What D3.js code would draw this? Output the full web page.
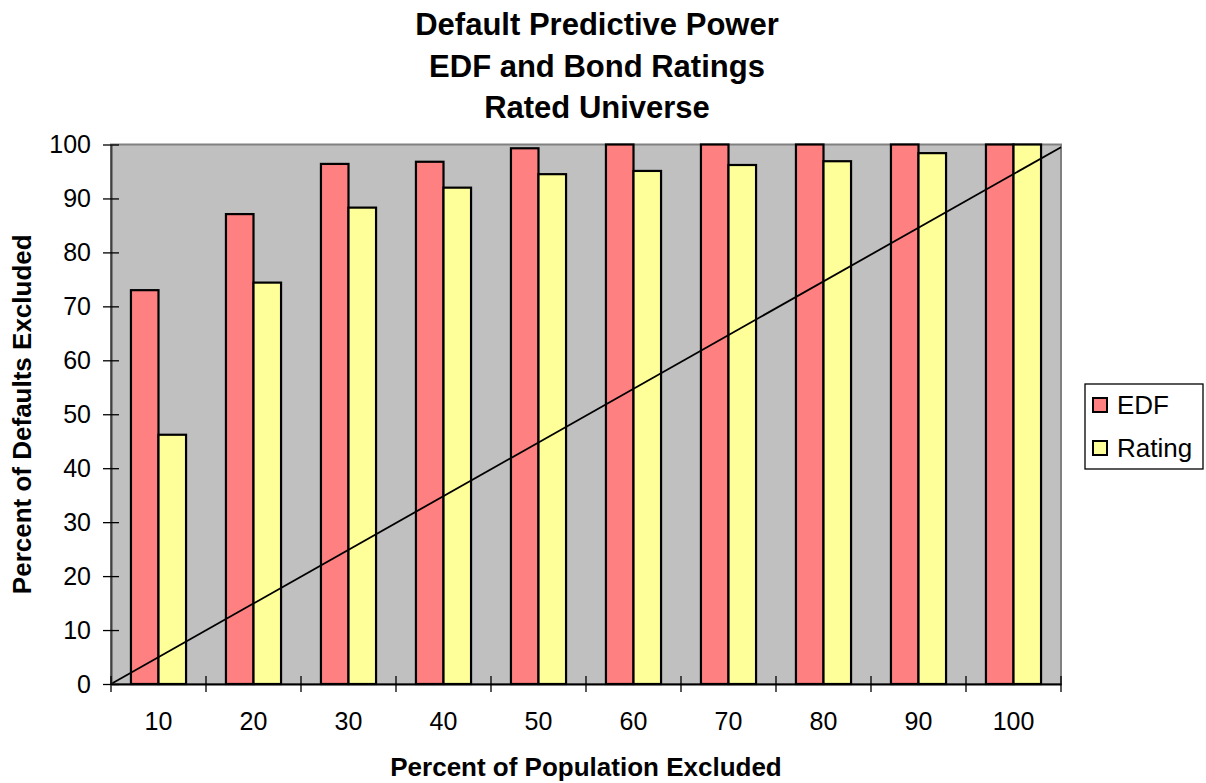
<!DOCTYPE html>
<html>
<head>
<meta charset="utf-8">
<script src="https://cdn.jsdelivr.net/npm/d3@7"></script>
<style>
  html, body { margin: 0; padding: 0; background: #fff; }
  svg { display: block; font-family: Arial, "Liberation Sans", sans-serif; }
</style>
</head>
<body>
<svg id="chart" width="1206" height="783"></svg>
<script>
const categories = ["10", "20", "30", "40", "50", "60", "70", "80", "90", "100"];
const seriesNames = ["EDF", "Rating"];
const edfValues = [73.0, 87.1, 96.4, 96.8, 99.3, 100, 100, 100, 100, 100];
const ratingValues = [46.2, 74.4, 88.3, 92.0, 94.5, 95.1, 96.2, 96.9, 98.4, 100];
const yTicks = [0, 10, 20, 30, 40, 50, 60, 70, 80, 90, 100];
const diagX = [0, 100];
const diagY = [0, 99.5];
const titleLines = ["Default Predictive Power", "EDF and Bond Ratings", "Rated Universe"];
const xTitle = "Percent of Population Excluded";
const yTitle = "Percent of Defaults Excluded";
const colors = { EDF: "#FF8080", Rating: "#FFFF99" };

const svg = d3.select("#chart");
const plot = { left: 111, right: 1061, top: 144.5, bottom: 684 };

const x0 = d3.scaleBand().domain(categories).range([plot.left, plot.right]).padding(0);
const bw = x0.bandwidth();
const gap = bw * 0.42;
const x1 = d3.scaleBand().domain(seriesNames).range([gap / 2, bw - gap / 2]).padding(0);
const y = d3.scaleLinear().domain([0, 100]).range([plot.bottom, plot.top]);
const xLin = d3.scaleLinear().domain([0, 100]).range([plot.left, plot.right]);

// plot background
svg.append("rect")
  .attr("x", plot.left).attr("y", plot.top)
  .attr("width", plot.right - plot.left).attr("height", plot.bottom - plot.top)
  .attr("fill", "#C0C0C0").attr("stroke", "#808080").attr("stroke-width", 2);

// bars
const rows = categories.map((c, i) => ({ cat: c, vals: [
  { s: "EDF", v: edfValues[i] }, { s: "Rating", v: ratingValues[i] } ] }));

const groups = svg.append("g").selectAll("g").data(rows).join("g")
  .attr("transform", d => `translate(${x0(d.cat)},0)`);
groups.selectAll("rect").data(d => d.vals).join("rect")
  .attr("x", d => x1(d.s))
  .attr("y", d => y(d.v))
  .attr("width", x1.bandwidth())
  .attr("height", d => y(0) - y(d.v))
  .attr("fill", d => colors[d.s])
  .attr("stroke", "#000").attr("stroke-width", 2.2);

// diagonal line
const line = d3.line().x(d => xLin(d[0])).y(d => y(d[1]));
svg.append("path")
  .datum(diagX.map((v, i) => [v, diagY[i]]))
  .attr("d", line)
  .attr("fill", "none").attr("stroke", "#000").attr("stroke-width", 1.8);

// y axis
const yAxis = d3.axisLeft(y).tickValues(yTicks).tickSizeInner(8).tickSizeOuter(0).tickPadding(12);
const gy = svg.append("g").attr("transform", `translate(${plot.left},0)`).call(yAxis);
gy.select(".domain").attr("stroke", "#404040").attr("stroke-width", 2);
gy.selectAll(".tick line").attr("x2", 8).attr("x1", -8).attr("stroke", "#000").attr("stroke-width", 1.3);
gy.selectAll(".tick text").attr("x", -20).style("font-size", "25px").attr("fill", "#000")
  .style("font-family", "Arial, 'Liberation Sans', sans-serif");

// x axis
const xAxis = d3.axisBottom(x0).tickSizeOuter(0).tickSize(0).tickPadding(28);
const gx = svg.append("g").attr("transform", `translate(0,${plot.bottom})`).call(xAxis);
gx.select(".domain").attr("stroke", "#000").attr("stroke-width", 2);
gx.selectAll(".tick line").remove();
gx.selectAll(".tick text").style("font-size", "25px").attr("fill", "#000")
  .style("font-family", "Arial, 'Liberation Sans', sans-serif");
// boundary tick marks between categories
const boundaries = categories.map(c => x0(c)).concat([plot.right]);
svg.append("g").selectAll("line").data(boundaries).join("line")
  .attr("x1", d => d).attr("x2", d => d)
  .attr("y1", plot.bottom - 8).attr("y2", plot.bottom + 8)
  .attr("stroke", "#000").attr("stroke-width", 1.3);

// titles
svg.append("g").selectAll("text").data(titleLines).join("text")
  .attr("x", 597).attr("y", (d, i) => 35 + i * 41.5)
  .attr("text-anchor", "middle")
  .style("font-size", "31px").style("font-weight", "bold")
  .text(d => d);

svg.append("text").attr("x", 586).attr("y", 776)
  .attr("text-anchor", "middle")
  .style("font-size", "26px").style("font-weight", "bold")
  .text(xTitle);

svg.append("text")
  .attr("transform", `translate(31,${(plot.top + plot.bottom) / 2}) rotate(-90)`)
  .attr("text-anchor", "middle")
  .style("font-size", "26px").style("font-weight", "bold")
  .text(yTitle);

// legend
const lg = svg.append("g");
lg.append("rect").attr("x", 1085).attr("y", 384).attr("width", 118).attr("height", 85)
  .attr("fill", "#fff").attr("stroke", "#000").attr("stroke-width", 1.3);
const li = lg.selectAll("g.item").data(seriesNames).join("g").attr("class", "item")
  .attr("transform", (d, i) => `translate(1093,${398 + i * 43})`);
li.append("rect").attr("width", 14).attr("height", 14)
  .attr("fill", d => colors[d]).attr("stroke", "#000").attr("stroke-width", 2);
li.append("text").attr("x", 24).attr("y", 7).attr("dy", "0.36em")
  .style("font-size", "26px").text(d => d);
</script>
</body>
</html>
